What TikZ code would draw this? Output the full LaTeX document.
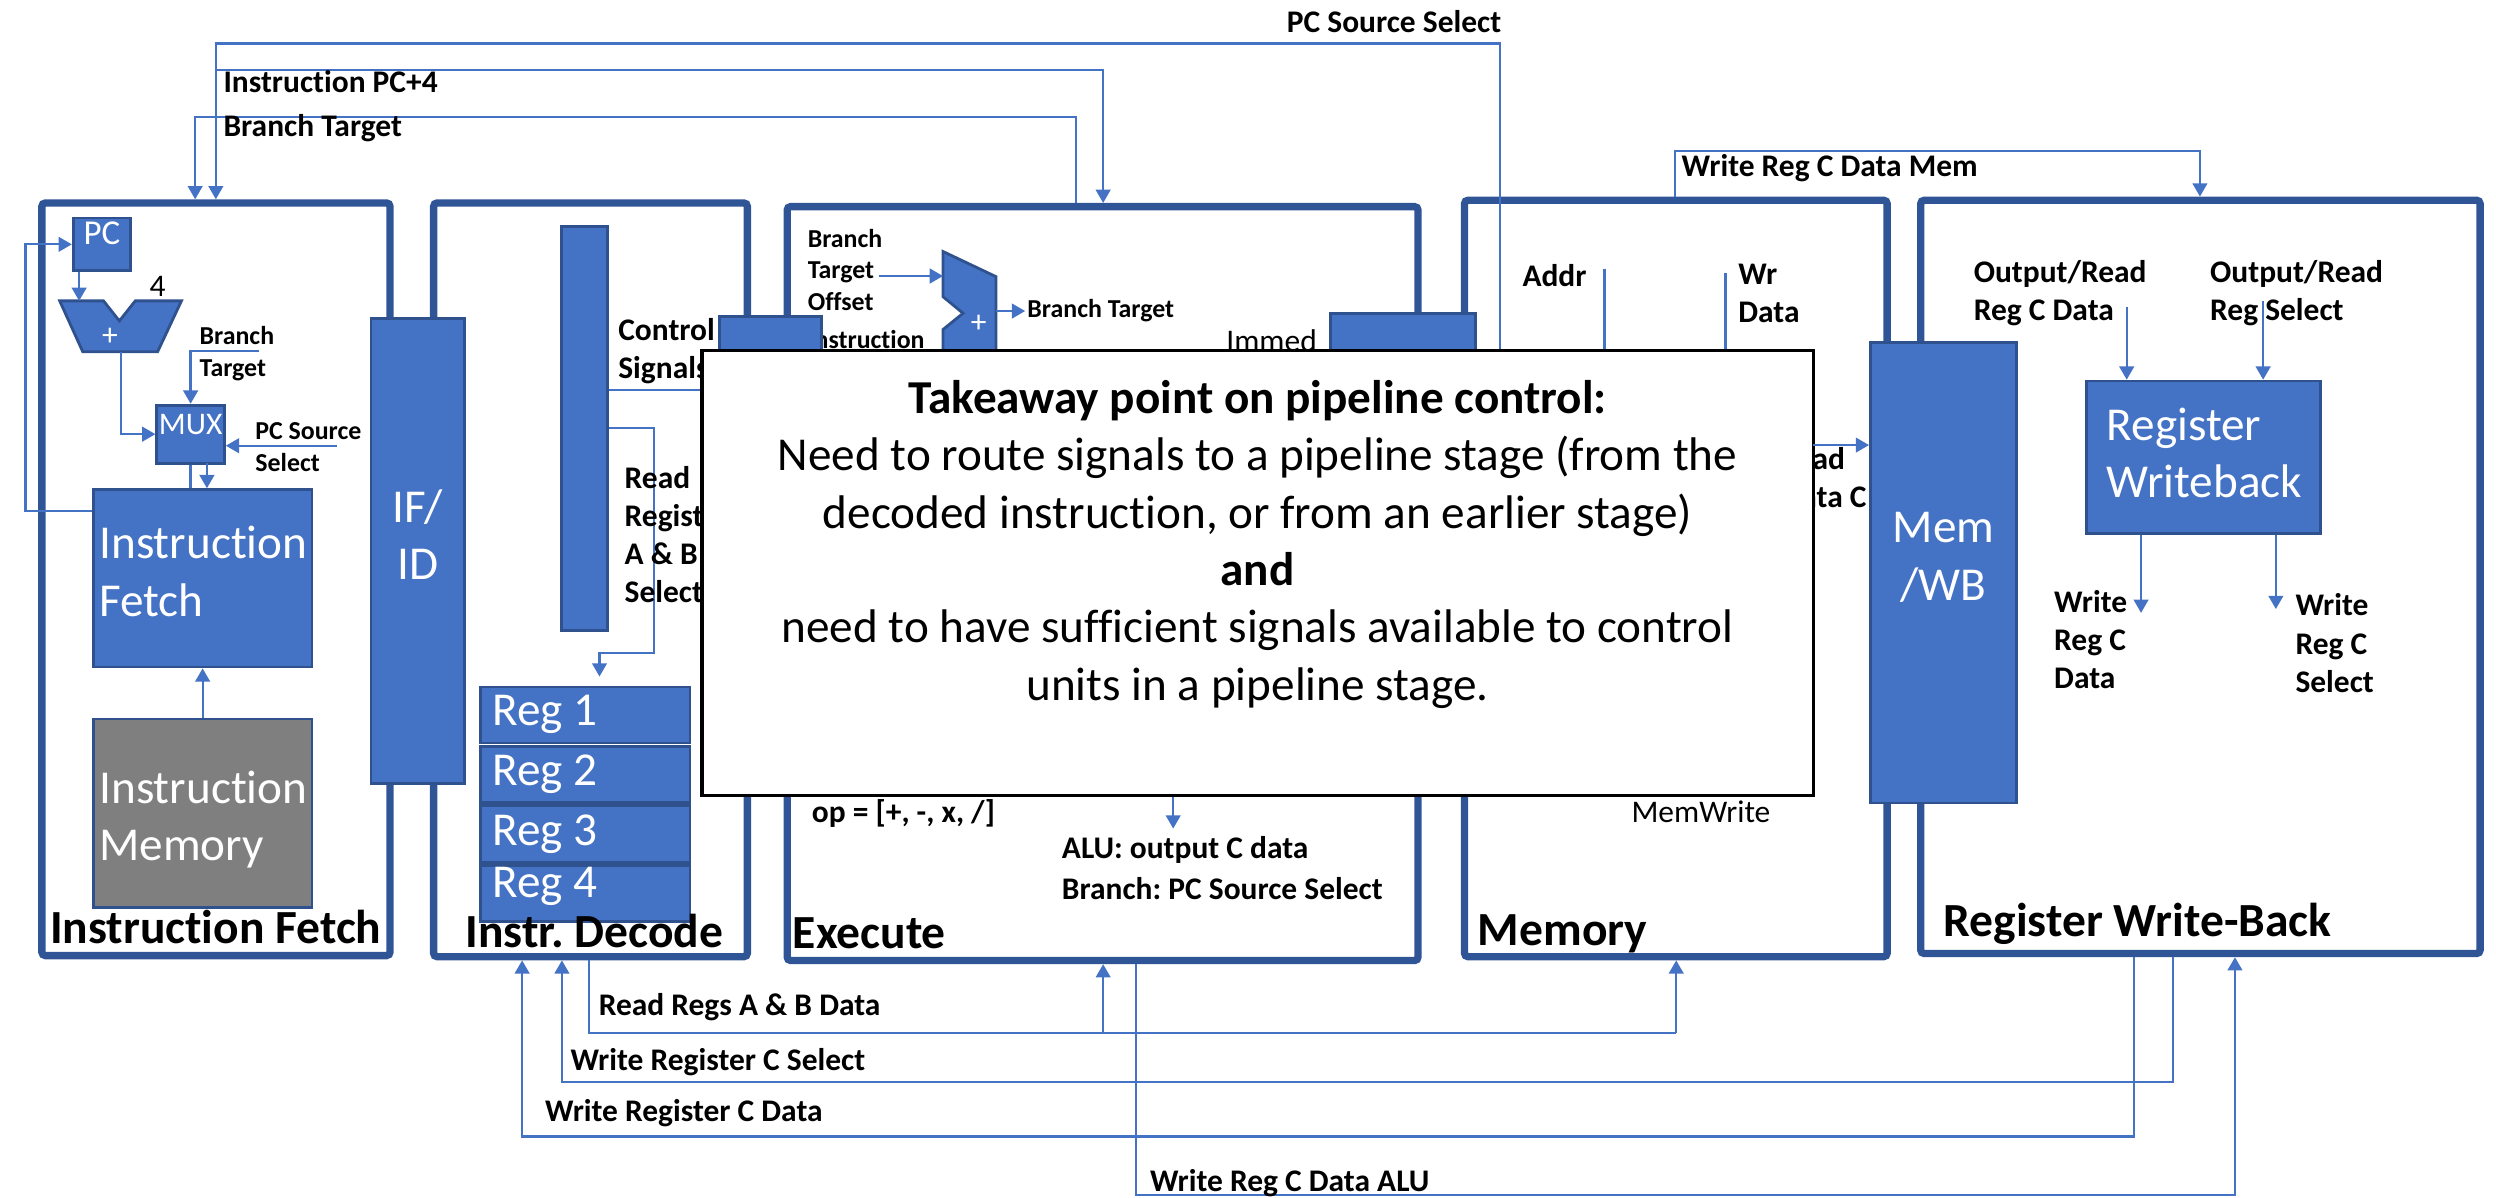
\documentclass[tikz,border=0pt]{standalone}
\usepackage{fontspec}
\setmainfont{Carlito}[Ligatures={NoCommon}]
\usepackage{xcolor}
\definecolor{blkfill}{HTML}{4472C4}
\definecolor{blkline}{HTML}{2F528F}
\definecolor{stageline}{HTML}{2F5597}
\definecolor{wirec}{HTML}{4472C4}
\definecolor{memgray}{HTML}{7F7F7F}
\usetikzlibrary{arrows.meta,fit}
\frenchspacing

\begin{document}
\begin{tikzpicture}[x=0.016cm,y=-0.016cm,
  stage/.style={draw=stageline,line width=2.1pt,rounded corners=1pt,inner sep=0pt},
  blk/.style={draw=blkline,fill=blkfill,line width=0.8pt,inner sep=0pt},
  gry/.style={draw=blkline,fill=memgray,line width=0.8pt,inner sep=0pt},
  wire/.style={draw=wirec,line width=0.65pt},
  arr/.style={wire,-{Triangle[length=3.8pt,width=4.2pt]}},
  big/.style={font=\fontsize{13.5}{16.4}\selectfont,inner sep=0pt},
  wtxt/.style={big,text=white,align=left,anchor=west},
  stagelbl/.style={font=\bfseries\fontsize{13.6}{16}\selectfont,inner sep=0pt,anchor=base west},
  lbl/.style={font=\bfseries\fontsize{9}{10.9}\selectfont,inner sep=0pt,anchor=west,align=left},
  slbl/.style={font=\bfseries\fontsize{7.4}{9.1}\selectfont,inner sep=0pt,anchor=west,align=left},
  note/.style={font=\fontsize{9}{10.9}\selectfont,inner sep=0pt}]
\useasboundingbox (0,0) rectangle (1568,752);

% stages
\node[stage,fit={(26.3,127.5) (245,600.3)}] (ifs) {};
\node[stage,fit={(272.4,127.5) (469.5,601)}] (ids) {};
\node[stage,fit={(494.5,129.8) (890.8,603.4)}] (exs) {};
\node[stage,fit={(920,125.8) (1185.5,601)}] (mems) {};
\node[stage,fit={(1206.6,125.8) (1558,599)}] (wbs) {};

% instruction fetch
\node[blk,fit={(46,137) (82,170)},font=\fontsize{10}{12}\selectfont,text=white] (pc) {PC};
\node[blk,fit={(98.5,254.5) (141,291)},font=\fontsize{9}{11}\selectfont,text=white] (mux) {MUX};
\node[blk,fit={(58.6,307.6) (196,419)}] (fetch) {};
\node[wtxt] (fetchtxt) at (62,359) {Instruction\\Fetch};
\node[gry,fit={(58.6,451.7) (196,570)}] (imem) {};
\node[wtxt] (imemtxt) at (62,515) {Instruction\\Memory};
\draw[blk] (37.5,189) -- (65,189) -- (75,201.6) -- (85,189) -- (114,189) -- (99,221) -- (52,221) -- cycle;
\node[note,text=white] (ifplus) at (69,211.6) {+};
\node[note] (four) at (99,180) {4};
\coordinate (addtop) at (49.7,189);
\coordinate (addbot) at (76,221);
\draw[arr] (pc.south -| addtop) -- (addtop);
\draw[arr] (addbot) |- (mux.west);
\coordinate (ifbt) at (163,220.5);
\draw[arr] (ifbt) -| (mux.north);
\node[slbl] (ifbtlbl) at (125,222) {Branch\\Target};
\coordinate (ifpcs) at (211.6,280);
\draw[arr] (ifpcs) -- (mux.east |- ifpcs);
\node[slbl] (ifpcslbl) at (160,281) {PC Source\\Select};
\coordinate (m2f) at (130,291);
\draw[wire] (mux.south) -- (mux.south |- fetch.north);
\draw[arr] (m2f) -- (m2f |- fetch.north);
\draw[arr] (imem.north) -- (fetch.south);
\coordinate (fb) at (16,321);
\draw[arr] (fetch.west |- fb) -- (fb) |- (pc.west);
\node[blk,fit={(233,200) (292,492)},big,text=white,align=center] (ifid) {IF/\\ID};

% instruction decode
\node[blk,fit={(352.6,142.5) (381.5,396)}] (dec) {};
\node[lbl] (ctrllbl) at (388,220.4) {Control\\Signals};
\coordinate (ctl) at (441,245);
\draw[wire] (dec.east |- ctl) -- (ctl);
\coordinate (rsel) at (411,269);
\coordinate (rselb) at (411,410);
\coordinate (rsel2) at (376.6,410);
\coordinate (rsel3) at (376.6,425);
\draw[arr] (dec.east |- rsel) -- (rsel) -- (rselb) -- (rsel2) -- (rsel3);
\node[lbl] (rdlbl) at (392,336) {Read\\Register\\A \& B\\Select};
\foreach \i/\t/\b/\m in {1/431.6/466.8/449,2/469/504/486.6,3/506/541.6/524,4/543.6/579/557}{
  \node[blk,fit={(302,\t) (433.5,\b)}] (reg\i) {};
  \node[wtxt] (regtxt\i) at (309,\m) {Reg \i};
}

% execute
\node[slbl] (offlbl) at (507,169.6) {Branch\\Target\\Offset};
\node[slbl,anchor=base west] (instlbl) at (507,219) {Instruction};
\draw[blk] (592.4,158) -- (625.7,173.8) -- (625.7,262) -- (592.4,278) -- (592.4,207) -- (605,196.8) -- (592.4,186.4) -- cycle;
\node[note,text=white] (explus) at (614.8,203.5) {+};
\coordinate (offend) at (552,173.4);
\coordinate (addin) at (592.4,173.4);
\draw[arr] (offend) -- (addin);
\coordinate (addout) at (625.7,195.4);
\coordinate (btend) at (644,195.4);
\draw[arr] (addout) -- (btend);
\node[slbl] (btlbl) at (645,195.4) {Branch Target};
\node[note,anchor=base west] (immed) at (770,221) {Immed};
\node[blk,fit={(452,199) (516,480)}] (idex) {};
\node[blk,fit={(836,197) (927,480)}] (exmem) {};
\node[lbl] (oplbl) at (509.6,511) {op = [+, -, x, /]};
\coordinate (aluin) at (737,500);
\coordinate (aluend) at (737,520.5);
\draw[arr] (aluin) -- (aluend);
\node[lbl] (alulbl) at (666.7,534) {ALU: output C data};
\node[lbl] (brlbl) at (666.7,558.5) {Branch: PC Source Select};

% memory
\node[lbl] (addr) at (956,173) {Addr};
\coordinate (addrtop) at (1008,168.7);
\coordinate (addrbot) at (1008,220);
\draw[wire] (addrtop) -- (addrbot);
\node[lbl] (wrdata) at (1091.6,184.5) {Wr\\Data};
\coordinate (wrtop) at (1084,171.5);
\coordinate (wrbot) at (1084,220);
\draw[wire] (wrtop) -- (wrbot);
\node[note,anchor=west] (memwr) at (1024.5,510) {MemWrite};
\node[lbl,anchor=base east] (rdtail) at (1159.5,295) {Read};
\node[lbl,anchor=base east] (dctail) at (1173,319) {Data C};
\node[blk,fit={(1175,215) (1267,504.5)},big,text=white,align=center] (memwb) {Mem\\/WB};

% write-back
\node[lbl] (ordata) at (1239.5,184) {Output/Read\\Reg C Data};
\node[lbl] (orsel) at (1388,184) {Output/Read\\Reg Select};
\node[blk,fit={(1310.5,239.4) (1457.8,335)}] (rwb) {};
\node[wtxt] (rwbtxt) at (1323,284.5) {Register\\Writeback};
\coordinate (ord) at (1336,192.7);
\coordinate (ors) at (1421.7,189);
\draw[arr] (ord) -- (ord |- rwb.north);
\draw[arr] (ors) -- (ors |- rwb.north);
\coordinate (wdo) at (1345,385);
\coordinate (wso) at (1429.7,382.6);
\draw[arr] (wdo |- rwb.south) -- (wdo);
\draw[arr] (wso |- rwb.south) -- (wso);
\node[lbl] (wdlbl) at (1290,402) {Write\\Reg C\\Data};
\node[lbl] (wslbl) at (1441.6,404) {Write\\Reg C\\Select};

% stage names
\node[stagelbl] (iflbl) at (31,593) {Instruction Fetch};
\node[stagelbl] (idlbl) at (292,595) {Instr. Decode};
\node[stagelbl] (exlbl) at (497.6,595.7) {Execute};
\node[stagelbl] (memlbl) at (928,593.7) {Memory};
\node[stagelbl] (wblbl) at (1220.6,588) {Register Write-Back};

% top routes
\coordinate (pcsrcbot) at (942.3,220);
\coordinate (pcsrc) at (942.3,27.4);
\coordinate (ifin) at (135.6,27.4);
\draw[arr] (pcsrcbot) -- (pcsrc) -- (ifin) -- (ifin |- ifs.north);
\coordinate (pc4) at (135.6,44);
\coordinate (pc4e) at (693,44);
\draw[arr] (pc4) -- (pc4e) -- (pc4e |- exs.north);
\coordinate (btr) at (676,73.7);
\coordinate (btl) at (122.6,73.7);
\draw[arr] (btr |- exs.north) -- (btr) -- (btl) -- (btl |- ifs.north);
\coordinate (wml) at (1052,94.9);
\coordinate (wmr) at (1382,94.9);
\draw[arr] (wml |- mems.north) -- (wml) -- (wmr) -- (wmr |- wbs.north);
\node[lbl] (pcsrclbl) at (808,13.6) {PC Source Select};
\node[lbl] (pc4lbl) at (140,51.3) {Instruction PC+4};
\node[lbl] (btoplbl) at (140,80.6) {Branch Target};
\node[lbl] (wmlbl) at (1056,105.7) {Write Reg C Data Mem};

% bottom routes
\coordinate (rab) at (370,649);
\coordinate (rabx) at (693,649);
\coordinate (rabe) at (1053,649);
\draw[wire] (rab |- ids.south) -- (rab) -- (rabe);
\draw[arr] (rabe) -- (rabe |- mems.south);
\draw[arr] (rabx) -- (rabx |- exs.south);
\coordinate (wcs1) at (1365,679.5);
\coordinate (wcs2) at (353,679.5);
\draw[arr] (wcs1 |- wbs.south) -- (wcs1) -- (wcs2) -- (wcs2 |- ids.south);
\coordinate (wcd1) at (1340.7,714);
\coordinate (wcd2) at (328,714);
\draw[arr] (wcd1 |- wbs.south) -- (wcd1) -- (wcd2) -- (wcd2 |- ids.south);
\coordinate (alu1) at (713.7,750.5);
\coordinate (alu2) at (1404,750.5);
\draw[arr] (alu1 |- exs.south) -- (alu1) -- (alu2) -- (alu2 |- wbs.south);
\node[lbl] (rablbl) at (375.7,632.6) {Read Regs A \& B Data};
\node[lbl] (wcslbl) at (358,667) {Write Register C Select};
\node[lbl] (wcdlbl) at (342,699) {Write Register C Data};
\node[lbl] (alulbl2) at (722,743) {Write Reg C Data ALU};

% takeaway
\node[draw=black,line width=0.9pt,fill=white,inner sep=0pt,fit={(441,220) (1139,500)}] (ov) {};
\node[big,align=center] (ovtxt) at (790,342) {\textbf{Takeaway point on pipeline control:}\\
  Need to route signals to a pipeline stage (from the\\
  decoded instruction, or from an earlier stage)\\
  \textbf{and}\\
  need to have sufficient signals available to control\\
  units in a pipeline stage.};
\coordinate (ovr) at (1139,279.6);
\draw[arr] (ovr) -- (ovr -| memwb.west);
\end{tikzpicture}
\end{document}
